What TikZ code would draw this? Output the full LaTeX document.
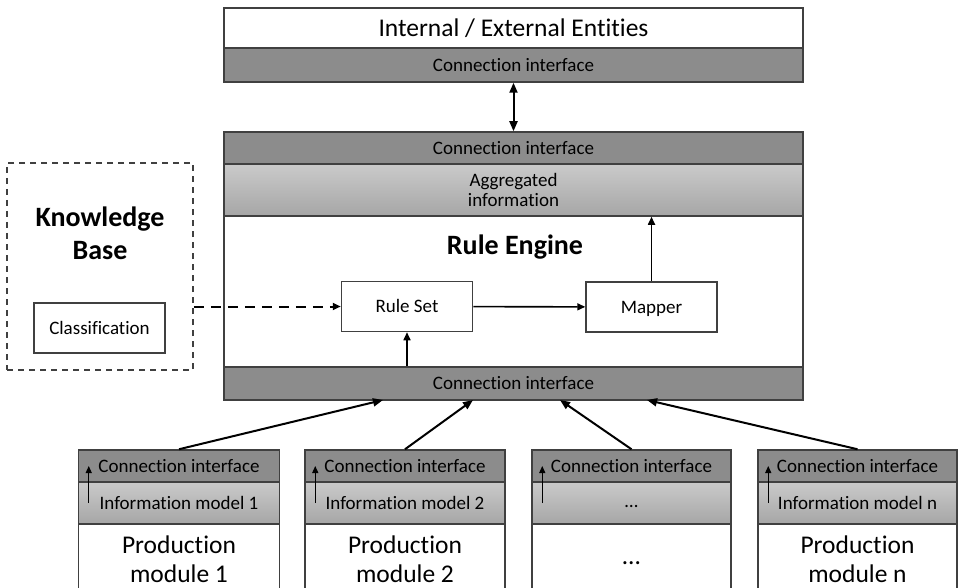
\documentclass[tikz,border=0pt]{standalone}
\usepackage{fontspec}
\setmainfont{Carlito}[Ligatures=NoCommon]
\usepackage{tikz}
\usetikzlibrary{positioning, arrows.meta}
\definecolor{cigray}{RGB}{140, 140, 140}
\definecolor{infotop}{RGB}{202, 202, 202}
\definecolor{infobot}{RGB}{166, 166, 166}
\definecolor{edgegray}{RGB}{64, 64, 64}
\newcommand{\smalltxt}{\fontsize{19}{20}\selectfont}
\newcommand{\largetxt}{\fontsize{25.5}{29}\selectfont}
\newcommand{\headtxt}{\fontsize{28}{33}\selectfont\bfseries}
\tikzset{
    layer/.style={rectangle, draw=edgegray, line width=1.5pt, inner sep=0pt, align=center, font=\smalltxt},
    cilayer/.style={layer, fill=cigray, text height=12.5pt, text depth=0pt},
    infolayer/.style={layer, top color=infotop, bottom color=infobot},
    whitelayer/.style={layer, fill=white},
    unitbox/.style={layer, fill=white, minimum width=131pt, minimum height=50pt, text height=12.5pt, text depth=0pt},
    flow/.style={line width=2pt, -{Triangle[length=10pt, width=8pt]}},
    innerflow/.style={line width=1.6pt, -{Triangle[length=8pt, width=7pt]}},
    tinyflow/.style={line width=1.3pt, -{Triangle[length=7pt, width=6pt]}}
}

\begin{document}
\begin{tikzpicture}[x=1pt, y=-1pt]
    \useasboundingbox (0,0) rectangle (958,588);
    \clip (0,0) rectangle (958,588);
    % internal / external entities
    \node[whitelayer, minimum width=579pt, minimum height=40pt, font=\largetxt] (ext) at (513.5,28) {Internal / External Entities};
    \node[cilayer, minimum width=579pt, minimum height=34pt] (extci) at (513.5,65) {Connection interface};
    % rule engine
    \node[cilayer, minimum width=579pt, minimum height=32pt] (topci) at (513.5,148) {Connection interface};
    \node[infolayer, minimum width=579pt, minimum height=52pt] (agg) at (513.5,190) {Aggregated\\information};
    \node[whitelayer, minimum width=579pt, minimum height=151pt] (engine) at (513.5,291.5) {};
    \node[cilayer, minimum width=579pt, minimum height=33pt] (botci) at (513.5,383.5) {Connection interface};
    \node[font=\headtxt] (title) at (515,247) {Rule Engine};
    \node[unitbox] (ruleset) at (407,306.5) {Rule Set};
    \node[unitbox] (mapper) at (651.5,307) {Mapper};
    % knowledge base
    \node[draw=edgegray, line width=1.5pt, dash pattern=on 6pt off 5pt, minimum width=186pt, minimum height=207pt] (kb) at (100,266.5) {};
    \node[font=\headtxt, align=center] (kbtitle) at (100,233.5) {Knowledge\\Base};
    \node[unitbox] (classif) at (99.5,328) {Classification};
    % production modules
    \node[cilayer, minimum width=201pt, minimum height=32pt] (mci1) at (179,466) {Connection interface};
    \node[infolayer, minimum width=201pt, minimum height=42pt] (mim1) at (179,503) {Information model 1};
    \node[whitelayer, minimum width=201pt, minimum height=70pt, font=\largetxt] (mod1) at (179,559) {Production\\module 1};
    \node[cilayer, minimum width=200pt, minimum height=32pt] (mci2) at (405,466) {Connection interface};
    \node[infolayer, minimum width=200pt, minimum height=42pt] (mim2) at (405,503) {Information model 2};
    \node[whitelayer, minimum width=200pt, minimum height=70pt, font=\largetxt] (mod2) at (405,559) {Production\\module 2};
    \node[cilayer, minimum width=199pt, minimum height=32pt] (mci3) at (631.5,466) {Connection interface};
    \node[infolayer, minimum width=199pt, minimum height=42pt] (mim3) at (631.5,503) {\strut\ldots};
    \node[whitelayer, minimum width=199pt, minimum height=70pt, font=\largetxt] (mod3) at (631.5,559) {\strut\ldots};
    \node[cilayer, minimum width=199pt, minimum height=32pt] (mci4) at (857.5,466) {Connection interface};
    \node[infolayer, minimum width=199pt, minimum height=42pt] (mim4) at (857.5,503) {Information model n};
    \node[whitelayer, minimum width=199pt, minimum height=70pt, font=\largetxt] (mod4) at (857.5,559) {Production\\module n};
    % connectors
    \coordinate (in1) at (383,400);
    \coordinate (in2) at (473,400);
    \coordinate (in3) at (560,400);
    \coordinate (in4) at (647,400);
    \draw[line width=2pt, {Triangle[length=10pt, width=8pt]}-{Triangle[length=10pt, width=8pt]}] (extci.south) -- (topci.north);
    \draw[flow] (mci1.north) -- (in1);
    \draw[flow] (mci2.north) -- (in2);
    \draw[flow] (mci3.north) -- (in3);
    \draw[flow] (mci4.north) -- (in4);
    \draw[innerflow] (ruleset) -- (mapper);
    \draw[innerflow] (mapper.north) -- (mapper.north |- agg.south);
    \draw[innerflow] (ruleset.south |- botci.north) -- (ruleset.south);
    \draw[innerflow, line width=2pt, dash pattern=on 10pt off 7pt] (kb.east |- ruleset.west) -- (ruleset.west);
    \draw[tinyflow] ([xshift=11pt]mim1.west) -- ([xshift=11pt]mci1.west);
    \draw[tinyflow] ([xshift=11pt]mim2.west) -- ([xshift=11pt]mci2.west);
    \draw[tinyflow] ([xshift=11pt]mim3.west) -- ([xshift=11pt]mci3.west);
    \draw[tinyflow] ([xshift=11pt]mim4.west) -- ([xshift=11pt]mci4.west);
\end{tikzpicture}
\end{document}
